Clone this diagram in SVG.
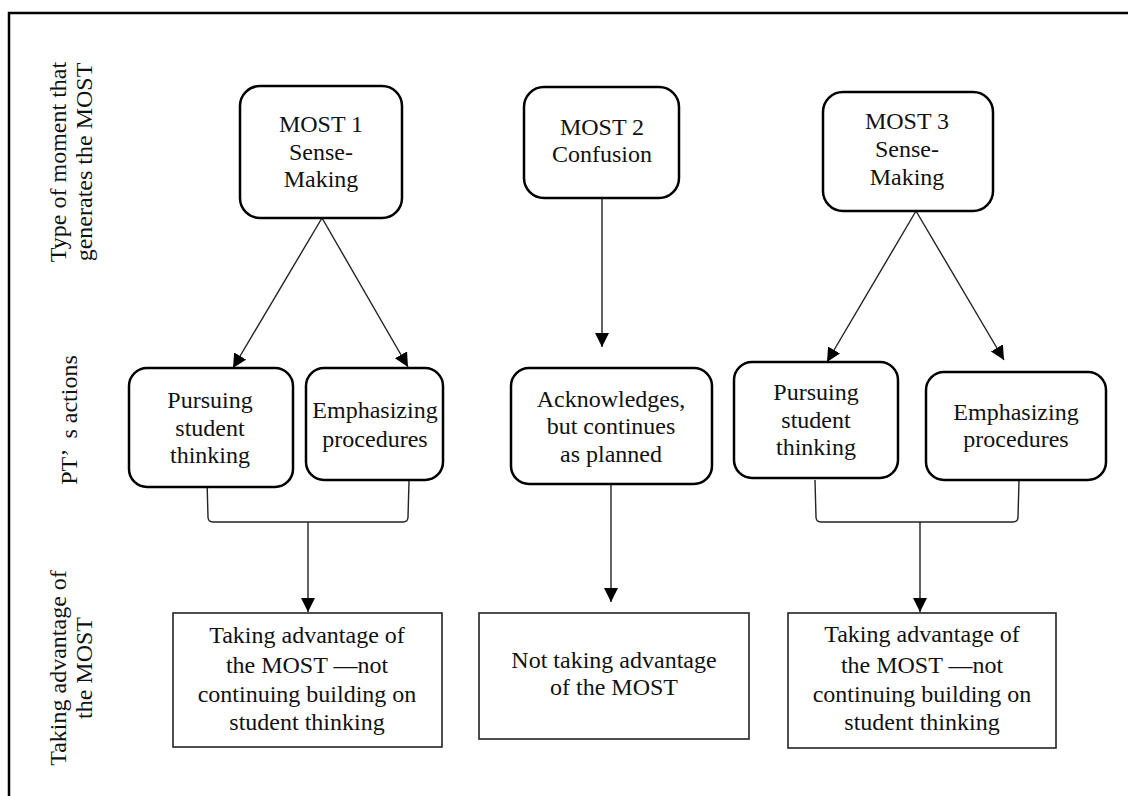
<svg xmlns="http://www.w3.org/2000/svg" width="1128" height="796" viewBox="0 0 1128 796">
  <style>
    .t { font-family: 'Liberation Serif', 'DejaVu Serif', serif; font-size: 24px; fill: #111; }
    .c { text-anchor: middle; }
    .rbox { fill: #fff; stroke: #000; stroke-width: 2.5; }
    .sbox { fill: #fff; stroke: #222; stroke-width: 1.6; }
    .link { fill: none; stroke: #222; stroke-width: 1.4; }
    .frame { fill: none; stroke: #000; stroke-width: 2.5; }
  </style>
  <defs>
    <marker id="arrow" markerUnits="userSpaceOnUse" markerWidth="14" markerHeight="16" viewBox="0 0 14 16" refX="14" refY="7" orient="auto">
      <path d="M0,0 L14,7 L0,14 Z" fill="#000"/>
    </marker>
  </defs>

  <rect width="1128" height="796" fill="#fff"/>

  <!-- page frame (top and left edges only) -->
  <path class="frame" d="M1128,13 L9,13 L9,796"/>

  <g class="t" font-family="Liberation Serif, DejaVu Serif, serif">
    <!-- row labels -->
    <g id="label-type">
      <text class="c" transform="translate(66,162) rotate(-90)">Type of moment that<tspan x="0" dy="26">generates the MOST</tspan></text>
    </g>
    <g id="label-actions">
      <text class="c" transform="translate(77,420) rotate(-90)" xml:space="preserve">PT’  s actions</text>
    </g>
    <g id="label-advantage">
      <text class="c" transform="translate(66,668) rotate(-90)">Taking advantage of<tspan x="0" dy="26">the MOST</tspan></text>
    </g>
  </g>

  <!-- connectors -->
  <g id="connectors">
    <line class="link" x1="322" y1="218" x2="233" y2="368" marker-end="url(#arrow)"/>
    <line class="link" x1="322" y1="218" x2="408" y2="367" marker-end="url(#arrow)"/>
    <line class="link" x1="602" y1="198" x2="602" y2="347" marker-end="url(#arrow)"/>
    <line class="link" x1="916" y1="211" x2="827" y2="362" marker-end="url(#arrow)"/>
    <line class="link" x1="916" y1="211" x2="1004" y2="360" marker-end="url(#arrow)"/>

    <path class="link" d="M207,480 L208,517 Q208,522 213,522 L403,522 Q408,522 408,517 L409,481"/>
    <line class="link" x1="308" y1="522" x2="308" y2="612" marker-end="url(#arrow)"/>

    <line class="link" x1="611" y1="484" x2="611" y2="602" marker-end="url(#arrow)"/>

    <path class="link" d="M815,480 L816,517 Q816,522 821,522 L1013,522 Q1018,522 1018,517 L1019,481"/>
    <line class="link" x1="920" y1="522" x2="920" y2="612" marker-end="url(#arrow)"/>
  </g>

  <g class="t" font-family="Liberation Serif, DejaVu Serif, serif">
    <!-- moments -->
    <g id="most1">
      <rect class="rbox" x="240" y="86" width="162" height="132" rx="20"/>
      <text class="c" x="321" y="132">MOST 1</text>
      <text class="c" x="321" y="159.5">Sense-</text>
      <text class="c" x="321" y="187">Making</text>
    </g>
    <g id="most2">
      <rect class="rbox" x="524" y="87" width="155" height="111" rx="20"/>
      <text class="c" x="602" y="135">MOST 2</text>
      <text class="c" x="602" y="162">Confusion</text>
    </g>
    <g id="most3">
      <rect class="rbox" x="823" y="92" width="170" height="119" rx="20"/>
      <text class="c" x="907" y="129">MOST 3</text>
      <text class="c" x="907" y="157">Sense-</text>
      <text class="c" x="907" y="185">Making</text>
    </g>

    <!-- actions -->
    <g id="pursuing1">
      <rect class="rbox" x="129" y="368" width="164" height="119" rx="18"/>
      <text class="c" x="210" y="408">Pursuing</text>
      <text class="c" x="210" y="436">student</text>
      <text class="c" x="210" y="463">thinking</text>
    </g>
    <g id="emphasizing1">
      <rect class="rbox" x="306" y="368" width="137" height="112" rx="18"/>
      <text class="c" x="375" y="418">Emphasizing</text>
      <text class="c" x="375" y="447">procedures</text>
    </g>
    <g id="acknowledges">
      <rect class="rbox" x="511" y="368" width="201" height="116" rx="18"/>
      <text class="c" x="611" y="407">Acknowledges,</text>
      <text class="c" x="611" y="434">but continues</text>
      <text class="c" x="611" y="462">as planned</text>
    </g>
    <g id="pursuing3">
      <rect class="rbox" x="734" y="362" width="164" height="116" rx="18"/>
      <text class="c" x="816" y="400">Pursuing</text>
      <text class="c" x="816" y="428">student</text>
      <text class="c" x="816" y="455">thinking</text>
    </g>
    <g id="emphasizing3">
      <rect class="rbox" x="926" y="372" width="180" height="108" rx="18"/>
      <text class="c" x="1016" y="420">Emphasizing</text>
      <text class="c" x="1016" y="447">procedures</text>
    </g>

    <!-- outcomes -->
    <g id="outcome1">
      <rect class="sbox" x="173" y="613" width="269" height="134"/>
      <text class="c" x="307" y="643">Taking advantage of</text>
      <text class="c" x="307" y="673">the MOST —not</text>
      <text class="c" x="307" y="702">continuing building on</text>
      <text class="c" x="307" y="730">student thinking</text>
    </g>
    <g id="outcome2">
      <rect class="sbox" x="479" y="613" width="270" height="126"/>
      <text class="c" x="614" y="668">Not taking advantage</text>
      <text class="c" x="614" y="695">of the MOST</text>
    </g>
    <g id="outcome3">
      <rect class="sbox" x="788" y="613" width="268" height="135"/>
      <text class="c" x="922" y="642">Taking advantage of</text>
      <text class="c" x="922" y="673">the MOST —not</text>
      <text class="c" x="922" y="702">continuing building on</text>
      <text class="c" x="922" y="730">student thinking</text>
    </g>
  </g>
</svg>
